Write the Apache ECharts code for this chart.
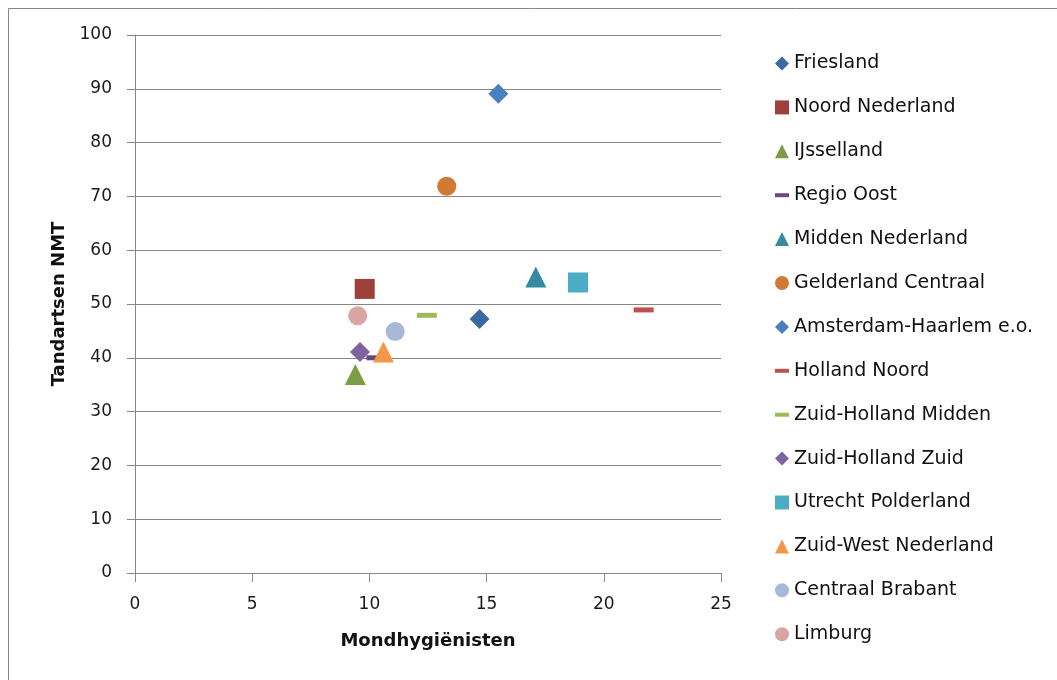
<!DOCTYPE html>
<html>
<head>
<meta charset="utf-8">
<script src="https://cdn.jsdelivr.net/npm/echarts@6/dist/echarts.min.js"></script>
<style>
html,body{margin:0;padding:0;background:#fff;}
#chart{width:1057px;height:680px;}
</style>
</head>
<body>
<div id="chart"></div>
<script>
// Data
const regions = ["Friesland","Noord Nederland","IJsselland","Regio Oost","Midden Nederland","Gelderland Centraal","Amsterdam-Haarlem e.o.","Holland Noord","Zuid-Holland Midden","Zuid-Holland Zuid","Utrecht Polderland","Zuid-West Nederland","Centraal Brabant","Limburg"];
const mondhygienisten = [14.7, 9.8, 9.4, 10.3, 17.1, 13.3, 15.5, 21.7, 12.45, 9.6, 18.9, 10.6, 11.1, 9.5];
const tandartsen = [47.2, 52.8, 36.9, 40, 55, 71.9, 89.1, 48.9, 47.9, 41.1, 54, 41.1, 44.9, 47.8];
const xTicks = [0, 5, 10, 15, 20, 25];
const yTicks = [0, 10, 20, 30, 40, 50, 60, 70, 80, 90, 100];

// Styles
const colors = ["#3D69A2","#A0403D","#7E9C45","#654A85","#368BA0","#D07A33","#4A7FC0","#C0504D","#9BBB59","#8064A2","#4BACC6","#F79646","#A7B9DA","#D9A5A4"];
const symbols = ["diamond","rect","triangle","dash","triangle","circle","diamond","dash","dash","diamond","rect","triangle","circle","circle"];
const FONT = "DejaVu Sans";

function seriesSymbol(s){ return s === "dash" ? "rect" : s; }
function seriesSize(s){
  if (s === "dash") return [20, 5];
  if (s === "circle") return 19;
  if (s === "diamond") return 20;
  if (s === "triangle") return 21;
  return 20;
}
const legendIcons = {
  diamond: "path://M7,0L14,7L7,14L0,7Z",
  rect: "path://M0,0h14v14h-14z",
  triangle: "path://M7,0L14,14L0,14Z",
  circle: "path://M7,0A7,7,0,1,1,6.99,0Z",
  dash: "path://M7,0L7,0M0,5h14v4h-14zM7,14L7,14"
};

const series = regions.map((name, i) => ({
  name: name,
  type: "scatter",
  data: [[mondhygienisten[i], tandartsen[i]]],
  symbol: seriesSymbol(symbols[i]),
  symbolSize: seriesSize(symbols[i]),
  itemStyle: { color: colors[i], opacity: 1 },
  emphasis: { disabled: true },
  z: 3 + i
}));

const chart = echarts.init(document.getElementById("chart"), null, { renderer: "canvas" });
chart.setOption({
  animation: false,
  backgroundColor: "#fff",
  textStyle: { fontFamily: FONT },
  graphic: [{
    type: "rect",
    shape: { x: 8.5, y: 8.5, width: 1100, height: 700 },
    style: { fill: "none", stroke: "#868686", lineWidth: 1 },
    silent: true,
    z: 0
  }],
  grid: { left: 135, right: 336, top: 35, bottom: 107, containLabel: false },
  xAxis: {
    type: "value",
    min: xTicks[0], max: xTicks[xTicks.length - 1], interval: 5,
    name: "Mondhygiënisten",
    nameLocation: "middle",
    nameGap: 59,
    nameTextStyle: { fontFamily: FONT, fontSize: 18, fontWeight: "bold", color: "#111" },
    axisLine: { show: true, onZero: false, lineStyle: { color: "#868686", width: 1 } },
    axisTick: { show: true, inside: false, length: 9, lineStyle: { color: "#868686" } },
    axisLabel: { margin: 23, fontFamily: FONT, fontSize: 17, color: "#1a1a1a" },
    splitLine: { show: false }
  },
  yAxis: {
    type: "value",
    min: yTicks[0], max: yTicks[yTicks.length - 1], interval: 10,
    name: "Tandartsen NMT",
    nameLocation: "middle",
    nameGap: 67,
    nameRotate: 90,
    nameTextStyle: { fontFamily: FONT, fontSize: 18, fontWeight: "bold", color: "#111" },
    axisLine: { show: true, onZero: false, lineStyle: { color: "#868686", width: 1 } },
    axisTick: { show: true, inside: false, length: 8, lineStyle: { color: "#868686" } },
    axisLabel: { margin: 23, fontFamily: FONT, fontSize: 17, color: "#1a1a1a" },
    splitLine: { show: true, lineStyle: { color: "#868686", width: 1 } }
  },
  legend: {
    orient: "vertical",
    left: 770,
    top: 49,
    itemWidth: 14,
    itemHeight: 14,
    itemGap: 24.9,
    symbolKeepAspect: true,
    selectedMode: false,
    textStyle: { fontFamily: FONT, fontSize: 19, color: "#111", lineHeight: 14 },
    data: regions.map((name, i) => ({ name: name, icon: legendIcons[symbols[i]] }))
  },
  series: series
});
</script>
</body>
</html>
